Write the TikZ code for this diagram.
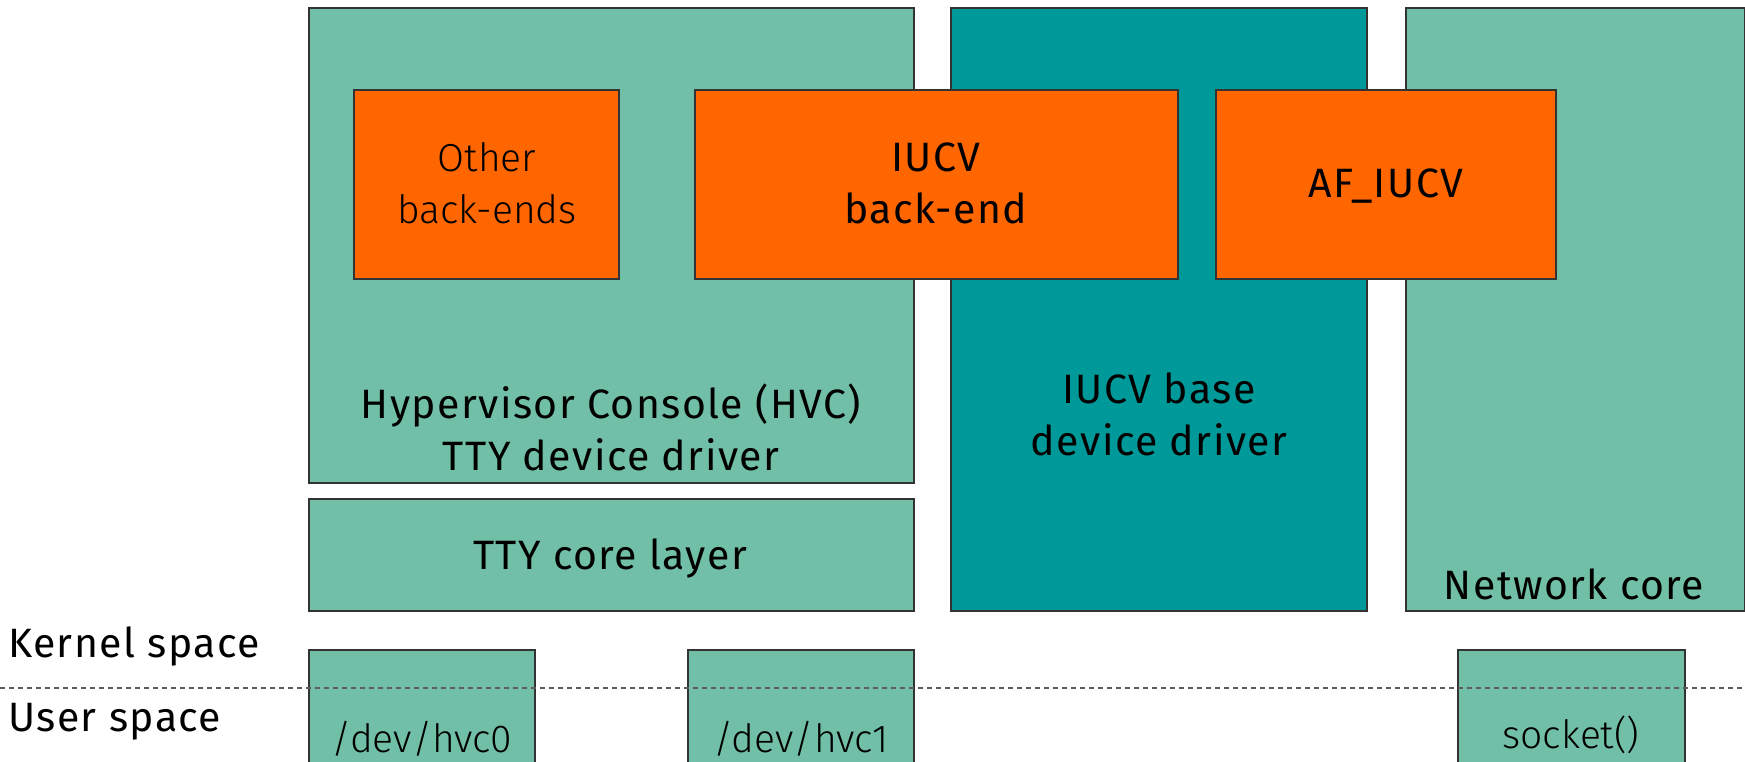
\documentclass[tikz,border=0pt]{standalone}
\usepackage{fontspec}
\setmainfont{Fira Sans}[LetterSpace=3.5]
\newfontfamily\lightface{Fira Sans Light}
\definecolor{sea}{HTML}{71BFA6}
\definecolor{tealbox}{HTML}{009999}
\definecolor{orangebox}{HTML}{FF6600}
\definecolor{edge}{HTML}{333333}
\tikzset{
  layer/.style={draw=edge, line width=1.2pt, anchor=north west, inner sep=0pt, outer sep=0pt},
  seabox/.style={layer, fill=sea},
  tealblock/.style={layer, fill=tealbox},
  orangeblock/.style={layer, fill=orangebox},
  txt/.style={anchor=base, inner sep=0pt, font=\fontsize{41}{48}\selectfont},
  thintxt/.style={anchor=base, inner sep=0pt, font=\lightface\fontsize{39}{46}\selectfont},
  sidetxt/.style={anchor=base west, inner sep=0pt, font=\fontsize{41}{48}\selectfont},
  boundary/.style={draw=edge!80, line width=1.2pt, dash pattern=on 5pt off 4pt}
}
\begin{document}
\begin{tikzpicture}[x=1pt, y=-1pt]
\useasboundingbox (0,0) rectangle (1745,762);

% kernel-side layers
\node[seabox, minimum width=605pt, minimum height=475pt] (hvc) at (309,8) {};
\node[seabox, minimum width=605pt, minimum height=112pt] (ttycore) at (309,499) {};
\node[tealblock, minimum width=416pt, minimum height=603pt] (iucvbase) at (951,8) {};
\node[seabox, minimum width=339pt, minimum height=603pt] (netcore) at (1406,8) {};

% back-end modules
\node[orangeblock, minimum width=265pt, minimum height=189pt] (other) at (354,90) {};
\node[orangeblock, minimum width=483pt, minimum height=189pt] (iucvbe) at (695,90) {};
\node[orangeblock, minimum width=340pt, minimum height=189pt] (afiucv) at (1216,90) {};

% user-space entry points
\node[seabox, minimum width=226pt, minimum height=130pt] (hvczero) at (309,650) {};
\node[seabox, minimum width=226pt, minimum height=130pt] (hvcone) at (688,650) {};
\node[seabox, minimum width=227pt, minimum height=130pt] (sock) at (1458,650) {};

% kernel / user boundary
\coordinate (bl) at (0,688);
\coordinate (br) at (1745,688);
\draw[boundary] (bl) -- (br);

% labels
\node[thintxt] (otherA) at (487,172) {Other};
\node[thintxt] (otherB) at (487,224) {back-ends};
\node[txt] (iucvbeA) at (936,172) {IUCV};
\node[txt] (iucvbeB) at (936,224) {back-end};
\node[txt] (afiucvA) at (1386,198) {AF\_IUCV};
\node[txt] (hvcA) at (611,418) {Hypervisor Console (HVC)};
\node[txt] (hvcB) at (611,470) {TTY device driver};
\node[txt] (ttyA) at (610,569) {TTY core layer};
\node[txt] (baseA) at (1159,403) {IUCV base};
\node[txt] (baseB) at (1159,455) {device driver};
\node[txt] (netA) at (1574,599) {Network core};
\node[thintxt] (hvczeroA) at (422,752) {/dev/hvc0};
\node[thintxt] (hvconeA) at (801,752) {/dev/hvc1};
\node[thintxt] (sockA) at (1571,748) {socket()};
\node[sidetxt] (kern) at (8,657) {Kernel space};
\node[sidetxt] (user) at (8,731) {User space};
\end{tikzpicture}
\end{document}
